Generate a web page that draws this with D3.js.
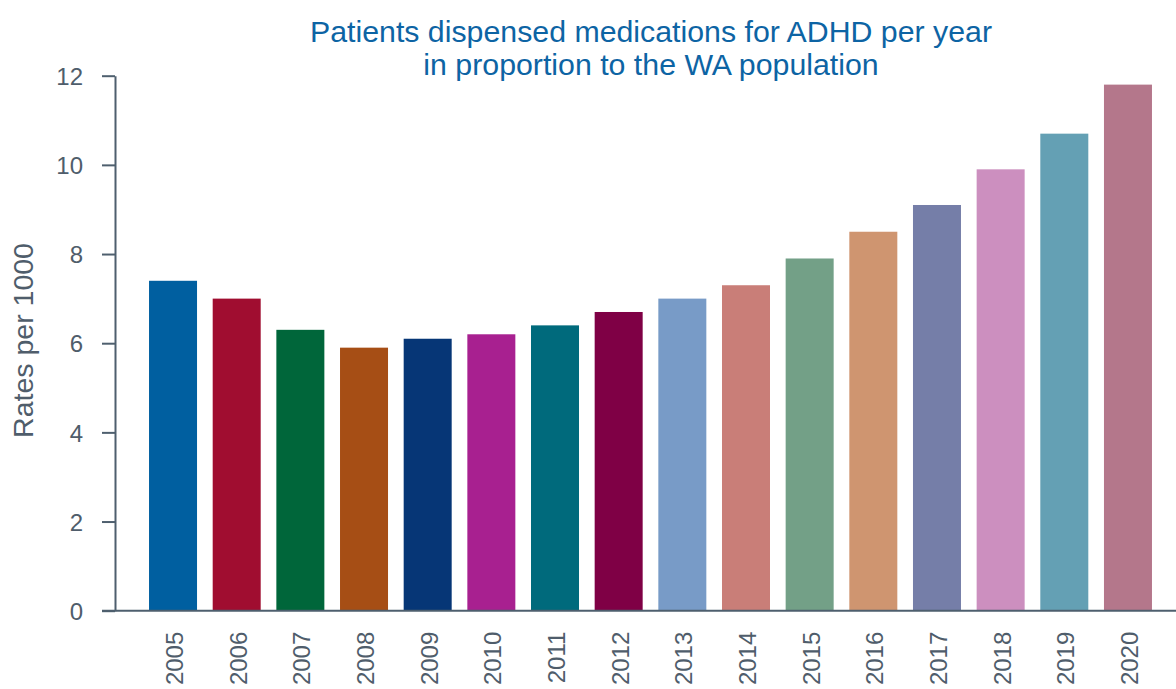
<!DOCTYPE html>
<html>
<head>
<meta charset="utf-8">
<script src="https://cdn.jsdelivr.net/npm/d3@7"></script>
<style>
    html, body { margin: 0; padding: 0; background: #fff; }
    svg { display: block; font-family: "Liberation Sans", Arial, sans-serif; }
</style>
</head>
<body>
<div id="chart"></div>
<script>
"use strict";

const years = ["2005", "2006", "2007", "2008", "2009", "2010", "2011", "2012",
    "2013", "2014", "2015", "2016", "2017", "2018", "2019", "2020"];
const rates = [7.4, 7.0, 6.3, 5.9, 6.1, 6.2, 6.4, 6.7, 7.0, 7.3, 7.9, 8.5, 9.1, 9.9, 10.7, 11.8];
const barColors = ["#005fa0", "#a00d30", "#00663a", "#a64e15", "#063676", "#a82090",
    "#006a7c", "#7f0045", "#789bc7", "#c97e78", "#73a087", "#cf9570",
    "#757ea8", "#cc8fbf", "#64a0b4", "#b4778b"];
const yTicks = [0, 2, 4, 6, 8, 10, 12];
const titleLines = ["Patients dispensed medications for ADHD per year", "in proportion to the WA population"];

const W = 1176, H = 689;
const axisColor = "#4e5f6e";
const textColor = "#4f5d6b";

const svg = d3.select("#chart").append("svg")
    .attr("width", W).attr("height", H);

const x = d3.scaleBand()
    .domain(years)
    .range([141.2, 1159.8])
    .paddingInner(0.246)
    .paddingOuter(0.123);

const y = d3.scaleLinear()
    .domain([0, 12])
    .range([610.7, 75.7]);

// bars
svg.append("g").selectAll("rect")
    .data(years)
    .join("rect")
    .attr("x", d => x(d))
    .attr("width", x.bandwidth())
    .attr("y", (d, i) => y(rates[i]))
    .attr("height", (d, i) => y(0) - y(rates[i]))
    .attr("fill", (d, i) => barColors[i]);

// y axis
const yAxis = svg.append("g")
    .attr("transform", "translate(115,0)")
    .call(d3.axisLeft(y).tickValues(yTicks).tickSize(13).tickSizeOuter(0).tickPadding(19));
yAxis.select(".domain").attr("stroke", axisColor).attr("stroke-width", 2);
yAxis.selectAll(".tick line").attr("stroke", axisColor).attr("stroke-width", 2);
yAxis.selectAll(".tick text")
    .attr("fill", textColor)
    .style("font-size", "24px")
    .attr("dy", "0.36em");

// x axis
const xAxis = svg.append("g")
    .attr("transform", `translate(0,${y(0)})`)
    .call(d3.axisBottom(x).tickSize(0).tickPadding(0));
xAxis.select(".domain").remove();
xAxis.append("line")
    .attr("x1", 102).attr("x2", W)
    .attr("stroke", axisColor).attr("stroke-width", 2);
xAxis.selectAll(".tick text")
    .attr("fill", textColor)
    .style("font-size", "24px")
    .attr("text-anchor", "end")
    .attr("transform", "translate(0,21) rotate(-90)")
    .attr("x", 0)
    .attr("y", 0)
    .attr("dy", "0.42em");

// y label
svg.append("text")
    .attr("transform", "translate(33,340.5) rotate(-90)")
    .attr("text-anchor", "middle")
    .attr("fill", textColor)
    .style("font-size", "28.5px")
    .text("Rates per 1000");

// title
svg.append("g").selectAll("text")
    .data(titleLines)
    .join("text")
    .attr("x", 651)
    .attr("y", (d, i) => 42 + i * 33)
    .attr("text-anchor", "middle")
    .attr("fill", "#0d64a4")
    .style("font-size", "30.3px")
    .text(d => d);
</script>
</body>
</html>
